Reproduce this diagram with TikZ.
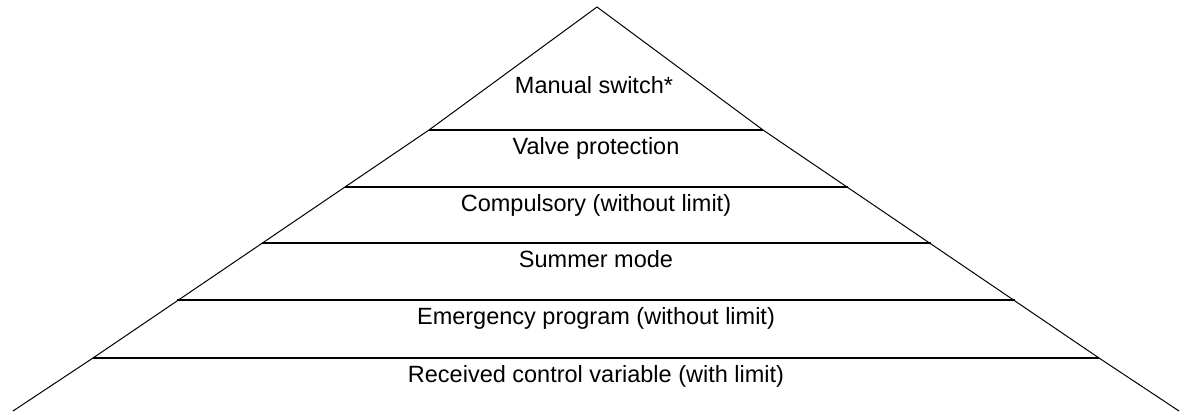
\documentclass[tikz,border=0pt]{standalone}
\usepackage{fontspec}
\setmainfont{Liberation Sans}
\begin{document}
\begin{tikzpicture}[x=1pt,y=-1pt,
  side/.style={draw=black,line width=1pt},
  tier/.style={draw=black,line width=2pt},
  label/.style={anchor=base,inner sep=0pt,font=\fontsize{23.5}{27}\selectfont}]
\useasboundingbox (0,0) rectangle (1180,412);
% apex and base corners
\coordinate (apex) at (597,7);
\coordinate (bl) at (13,411);
\coordinate (br) at (1179,411);
% tier line ends
\coordinate (l1) at (429,130); \coordinate (r1) at (763,130);
\coordinate (l2) at (345,187); \coordinate (r2) at (848,187);
\coordinate (l3) at (262,243); \coordinate (r3) at (931,243);
\coordinate (l4) at (177,300); \coordinate (r4) at (1015,300);
\coordinate (l5) at (93,358);  \coordinate (r5) at (1099,358);
% sides
\draw[side] (bl) -- (l5) -- (l1) -- (apex) -- (r1) -- (r5) -- (br);
% tiers
\draw[tier] (l1) -- (r1);
\draw[tier] (l2) -- (r2);
\draw[tier] (l3) -- (r3);
\draw[tier] (l4) -- (r4);
\draw[tier] (l5) -- (r5);
% labels
\node[label] (t0) at (594,93) {Manual switch*};
\node[label] (t1) at (596,154) {Valve protection};
\node[label] (t2) at (596,211) {Compulsory (without limit)};
\node[label] (t3) at (596,267) {Summer mode};
\node[label] (t4) at (596,324) {Emergency program (without limit)};
\node[label] (t5) at (596,382) {Received control variable (with limit)};
\end{tikzpicture}
\end{document}
